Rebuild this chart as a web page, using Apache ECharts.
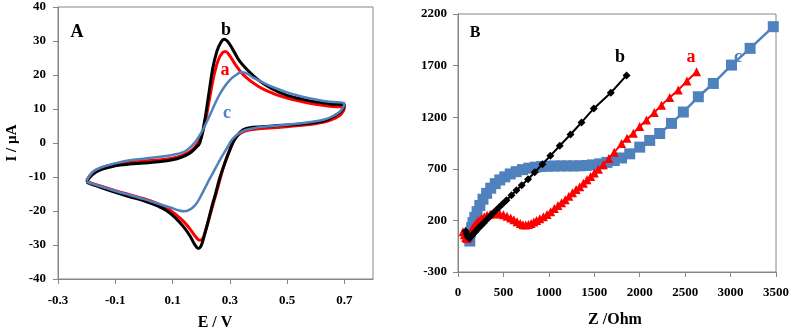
<!DOCTYPE html>
<html>
<head>
<meta charset="utf-8">
<script src="https://cdn.jsdelivr.net/npm/echarts@6/dist/echarts.min.js"></script>
<style>
html,body{margin:0;padding:0;background:#fff;}
#chart{width:793px;height:332px;}
</style>
</head>
<body>
<div id="chart"></div>
<script>
// Panel A: cyclic voltammograms [E (V), I (µA)]
var cvA = [[-0.2,-11.0],[-0.18,-8.8],[-0.15,-7.3],[-0.1,-6.2],[-0.05,-5.7],[0,-5.3],[0.05,-5.0],[0.1,-4.5],[0.13,-3.8],[0.16,-2.6],[0.18,-1.0],[0.2,1.8],[0.215,6.5],[0.23,13.5],[0.245,20.0],[0.26,24.5],[0.275,26.6],[0.285,26.9],[0.3,25.6],[0.32,23.0],[0.35,19.8],[0.4,16.6],[0.45,14.6],[0.5,13.2],[0.55,12.2],[0.6,11.4],[0.65,10.8],[0.7,10.4],
  [0.69,8.6],[0.67,7.4],[0.63,6.2],[0.55,5.2],[0.45,4.5],[0.38,4.0],[0.34,3.0],[0.315,0.8],[0.3,-2.0],[0.28,-6.5],[0.26,-12.5],[0.245,-17.0],[0.23,-21.5],[0.215,-25.8],[0.205,-28.2],[0.195,-28.6],[0.18,-27.5],[0.16,-25.2],[0.14,-23.2],[0.11,-20.9],[0.08,-19.1],[0.05,-17.9],[0,-16.4],[-0.05,-15.2],[-0.1,-14.0],[-0.15,-12.7],[-0.18,-11.9],[-0.2,-11.3]];
var cvB = [[-0.2,-11.5],[-0.18,-9.3],[-0.15,-7.8],[-0.1,-6.7],[-0.05,-6.2],[0,-5.9],[0.05,-5.5],[0.1,-4.9],[0.13,-4.2],[0.16,-3.0],[0.18,-1.5],[0.195,0.0],[0.21,5.5],[0.225,13.5],[0.24,21.8],[0.255,27.0],[0.27,29.8],[0.28,30.5],[0.295,29.6],[0.315,26.8],[0.335,24.0],[0.36,21.6],[0.4,18.5],[0.45,15.8],[0.5,14.0],[0.55,12.9],[0.6,12.1],[0.65,11.5],[0.7,11.0],
  [0.69,9.5],[0.67,8.2],[0.63,6.5],[0.55,5.6],[0.45,5.0],[0.38,4.6],[0.345,3.8],[0.32,1.5],[0.3,-2.0],[0.28,-6.5],[0.264,-10.5],[0.25,-15.0],[0.24,-17.8],[0.225,-22.8],[0.21,-27.5],[0.2,-30.2],[0.19,-31.0],[0.175,-29.5],[0.16,-27.2],[0.14,-24.8],[0.11,-22.0],[0.08,-19.9],[0.05,-18.6],[0,-17.0],[-0.05,-15.8],[-0.1,-14.5],[-0.15,-13.1],[-0.18,-12.2],[-0.2,-11.6]];
var cvC = [[-0.2,-11.2],[-0.18,-8.6],[-0.15,-7.2],[-0.1,-6.0],[-0.05,-5.1],[0,-4.6],[0.05,-4.1],[0.1,-3.5],[0.14,-2.6],[0.16,-1.4],[0.18,0.4],[0.2,3.0],[0.22,6.3],[0.24,10.0],[0.26,13.6],[0.28,16.4],[0.3,18.5],[0.32,19.9],[0.34,20.8],[0.36,20.4],[0.38,19.3],[0.42,17.6],[0.46,16.1],[0.5,14.9],[0.55,13.7],[0.6,12.8],[0.65,12.1],[0.7,11.7],
  [0.69,9.7],[0.67,8.3],[0.63,6.9],[0.55,5.8],[0.45,5.0],[0.38,4.3],[0.34,3.3],[0.31,1.2],[0.29,-1.5],[0.27,-4.3],[0.25,-7.4],[0.23,-10.5],[0.21,-13.8],[0.195,-16.2],[0.18,-18.2],[0.16,-19.6],[0.14,-20.1],[0.12,-19.8],[0.1,-19.2],[0.07,-18.4],[0.03,-17.3],[0,-16.5],[-0.05,-15.3],[-0.1,-14.1],[-0.15,-12.8],[-0.18,-12.0],[-0.2,-11.4]];
var cvXLabels = [-0.3,-0.1,0.1,0.3,0.5,0.7];

// Panel B: Nyquist plots [Z' (Ohm), -Z'' (Ohm)]
var eisA = [[55,90],[70,60],[85,35],[100,25],[115,40],[130,70],[145,100],[160,125],[180,150],[205,178],[230,200],[260,220],[290,236],[320,250],[355,260],[390,265],[425,266],[460,262],[500,254],[540,240],[580,224],[615,206],[650,188],[685,170],[715,158],[745,155],[775,160],[805,170],[835,185],[865,200],[900,215],[940,235],[980,258],[1020,285],[1060,315],[1100,345],[1140,372],[1180,400],[1220,435],[1260,468],[1300,500],[1340,527],[1380,560],[1420,595],[1460,625],[1500,660],[1545,695],[1600,740],[1660,800],[1720,860],[1800,945],[1860,995],[1930,1045],[2000,1110],[2075,1172],[2160,1245],[2240,1317],[2330,1392],[2424,1463],[2520,1550],[2626,1640]];
var eisB = [[85,95],[95,70],[105,50],[115,35],[125,28],[140,40],[155,55],[170,70],[185,85],[200,100],[218,118],[238,136],[260,155],[285,178],[312,203],[342,231],[375,260],[410,290],[450,325],[490,360],[533,395],[588,444],[643,492],[701,541],[771,599],[845,667],[929,745],[1017,826],[1120,923],[1238,1032],[1359,1149],[1495,1285],[1682,1437],[1855,1605]];
var eisC = [[130,0],[125,40],[135,85],[150,130],[165,180],[185,230],[210,285],[240,345],[275,405],[315,462],[360,512],[410,556],[460,592],[515,622],[575,650],[640,672],[710,692],[780,706],[850,716],[920,722],[990,725],[1060,727],[1130,728],[1200,728],[1270,728],[1340,729],[1410,732],[1480,738],[1560,748],[1640,762],[1720,780],[1800,805],[1890,845],[2000,910],[2110,975],[2220,1042],[2350,1140],[2480,1250],[2645,1398],[2810,1527],[3010,1705],[3215,1867],[3470,2077]];

var RED = '#ff0000', BLUE = '#4f81bd', BLACK = '#000000';
var FONT = '"Liberation Serif","Times New Roman",serif';
var lblStyle = {color:'#000', fontFamily:FONT, fontWeight:'bold', fontSize:13};
var axLine = {show:true, onZero:false, lineStyle:{color:'#868686', width:1}};
var axTick = {show:true, inside:false, length:5, lineStyle:{color:'#868686'}};
function plain(v){ return String(v); }

var chart = echarts.init(document.getElementById('chart'), null, {renderer:'canvas'});
function txt(x, y, s, size, color, rot) {
  return {type:'text', x:x, y:y, rotation:rot||0, z:100,
    style:{text:s, font:'bold '+size+'px '+FONT, fill:color||'#000',
      align:'center', verticalAlign:'middle', textAlign:'center', textVerticalAlign:'middle'}};
}
chart.setOption({
  animation:false,
  backgroundColor:'#fff',
  grid:[
    {left:58, top:7, width:315, height:272, show:true, borderColor:'#868686', borderWidth:1, backgroundColor:'transparent'},
    {left:458, top:14, width:318, height:258, show:true, borderColor:'#868686', borderWidth:1, backgroundColor:'transparent'}
  ],
  xAxis:[
    {type:'value', gridIndex:0, min:-0.3, max:0.8, axisLine:axLine,
     axisTick:Object.assign({customValues:cvXLabels}, axTick),
     axisLabel:Object.assign({margin:15, customValues:cvXLabels, formatter:function(v){return v.toFixed(1);}}, lblStyle),
     splitLine:{show:false}},
    {type:'value', gridIndex:1, min:0, max:3500, interval:500, axisLine:axLine, axisTick:axTick,
     axisLabel:Object.assign({margin:14, formatter:plain}, lblStyle), splitLine:{show:false}}
  ],
  yAxis:[
    {type:'value', gridIndex:0, min:-40, max:40, interval:10, axisLine:axLine, axisTick:axTick,
     axisLabel:Object.assign({margin:12, formatter:plain}, lblStyle), splitLine:{show:false}},
    {type:'value', gridIndex:1, min:-300, max:2200, interval:500, axisLine:axLine, axisTick:axTick,
     axisLabel:Object.assign({margin:11, formatter:plain}, lblStyle), splitLine:{show:false}}
  ],
  series:[
    {type:'line', xAxisIndex:0, yAxisIndex:0, data:cvA, smooth:0.4, symbol:'none', lineStyle:{color:RED, width:3}, z:2},
    {type:'line', xAxisIndex:0, yAxisIndex:0, data:cvB, smooth:0.4, symbol:'none', lineStyle:{color:BLACK, width:3}, z:3},
    {type:'line', xAxisIndex:0, yAxisIndex:0, data:cvC, smooth:0.4, symbol:'none', lineStyle:{color:BLUE, width:2.5}, z:4},
    {type:'line', xAxisIndex:1, yAxisIndex:1, data:eisC, symbol:'rect', symbolSize:11, itemStyle:{color:BLUE}, lineStyle:{color:BLUE, width:2.5}, z:2},
    {type:'line', xAxisIndex:1, yAxisIndex:1, data:eisA, symbol:'triangle', symbolSize:9, itemStyle:{color:RED}, lineStyle:{color:RED, width:2}, z:3},
    {type:'line', xAxisIndex:1, yAxisIndex:1, data:eisB, symbol:'diamond', symbolSize:8, itemStyle:{color:BLACK}, lineStyle:{color:BLACK, width:2}, z:4}
  ],
  graphic:[
    txt(12, 143, 'I / µA', 15, '#000', Math.PI/2),
    txt(215, 323, 'E / V', 16, '#000'),
    txt(615, 320, 'Z /Ohm', 16, '#000'),
    txt(77, 32, 'A', 18, '#000'),
    txt(475, 33, 'B', 16, '#000'),
    txt(226, 30, 'b', 18, BLACK),
    txt(225, 70, 'a', 18, RED),
    txt(227, 113, 'c', 18, BLUE),
    txt(620, 57, 'b', 18, BLACK),
    txt(691, 57, 'a', 18, RED),
    txt(738, 57, 'c', 18, BLUE)
  ]
});
</script>
</body>
</html>
